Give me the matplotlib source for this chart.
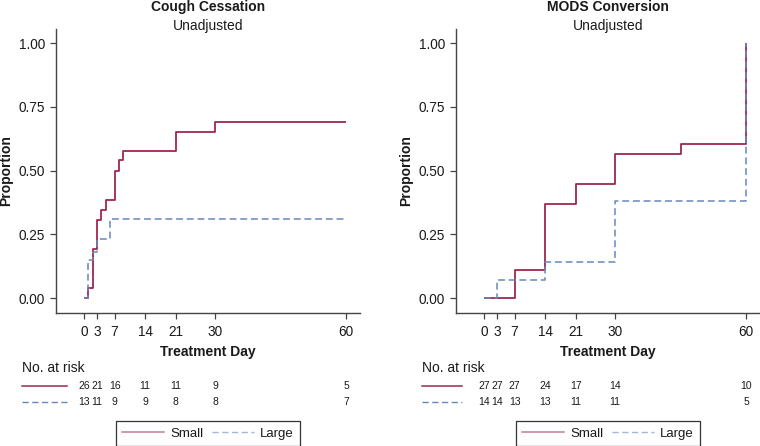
import matplotlib
matplotlib.use("Agg")
import matplotlib.pyplot as plt
from matplotlib.lines import Line2D
from matplotlib.transforms import blended_transform_factory

plt.rcParams['font.family'] = ['Liberation Sans', 'DejaVu Sans']

# ---------------- data ----------------
tick_days = [0, 3, 7, 14, 21, 30, 60]
y_ticks = [0.0, 0.25, 0.5, 0.75, 1.0]

cough_small_days = [0, 1, 2, 3, 4, 5, 7, 8, 9, 21, 30, 60]
cough_small_prop = [0, 0.038, 0.194, 0.306, 0.346, 0.385, 0.50, 0.540, 0.576, 0.653, 0.692, 0.692]
cough_large_days = [0, 1, 2, 3, 6, 60]
cough_large_prop = [0, 0.150, 0.180, 0.232, 0.308, 0.308]

mods_small_days = [0, 7, 14, 21, 30, 45, 60]
mods_small_prop = [0, 0.111, 0.369, 0.446, 0.563, 0.603, 1.0]
mods_large_days = [0, 3, 14, 30, 60]
mods_large_prop = [0, 0.072, 0.141, 0.379, 1.0]

cough_risk_small = [26, 21, 16, 11, 11, 9, 5]
cough_risk_large = [13, 11, 9, 9, 8, 8, 7]
mods_risk_small = [27, 27, 27, 24, 17, 14, 10]
mods_risk_large = [14, 14, 13, 13, 11, 11, 5]

titles = ["Cough Cessation", "MODS Conversion"]
subtitle = "Unadjusted"
group_labels = ["Small", "Large"]

RED = '#9E2752'
BLUE = '#6688BE'
TXT = '#1a1a1a'
AX = '#444444'

W, H = 760, 446
fig = plt.figure(figsize=(W / 100, H / 100), dpi=100)

def fx(px):
    return px / W

def fy(py):
    return 1 - py / H

panels = [
    dict(left=56, title=titles[0], s_d=cough_small_days, s_p=cough_small_prop,
         l_d=cough_large_days, l_p=cough_large_prop,
         r_s=cough_risk_small, r_l=cough_risk_large, tbl_x0=22.3, tbl_x1=66.7),
    dict(left=456, title=titles[1], s_d=mods_small_days, s_p=mods_small_prop,
         l_d=mods_large_days, l_p=mods_large_prop,
         r_s=mods_risk_small, r_l=mods_risk_large, tbl_x0=422.3, tbl_x1=461.7),
]

ax_top, ax_bot, ax_w = 29, 312.7, 304

for p in panels:
    ax = fig.add_axes([fx(p['left']), fy(ax_bot), fx(ax_w), (ax_bot - ax_top) / H])
    ax.set_xlim(-6.4, 63.2)
    ax.set_ylim(-0.0576, 1.055)
    for s in ['top', 'right']:
        ax.spines[s].set_visible(False)
    for s in ['left', 'bottom']:
        ax.spines[s].set_color(AX)
        ax.spines[s].set_linewidth(1.0)
    ax.step(p['s_d'], p['s_p'], where='post', color=RED, lw=1.3, solid_capstyle='butt')
    ax.step(p['l_d'], p['l_p'], where='post', color=BLUE, lw=1.1, dashes=(4.5, 2.5))
    ax.set_xticks(tick_days)
    ax.set_xticklabels([str(d) for d in tick_days])
    ax.set_yticks(y_ticks)
    ax.set_yticklabels([f"{v:.2f}" for v in y_ticks])
    ax.tick_params(axis='both', labelsize=9.8, colors=AX, labelcolor=TXT, length=4, width=0.9)
    ax.tick_params(axis='x', pad=5)
    ax.tick_params(axis='y', pad=4)
    ax.set_xlabel("Treatment Day", fontsize=10, fontweight='bold', color=TXT, labelpad=4)
    ax.set_ylabel("Proportion", fontsize=10, fontweight='bold', color=TXT, labelpad=4)

    cx = p['left'] + ax_w / 2
    fig.text(fx(cx), fy(7), p['title'], ha='center', va='center', fontsize=10,
             fontweight='bold', color=TXT)
    fig.text(fx(cx), fy(26), subtitle, ha='center', va='center', fontsize=10, color=TXT)

    # risk table
    fig.text(fx(p['tbl_x0']), fy(368), "No. at risk", ha='left', va='center', fontsize=10, color=TXT)
    fig.add_artist(Line2D([fx(p['tbl_x0']), fx(p['tbl_x1'])], [fy(386), fy(386)],
                          color=RED, lw=1.1, transform=fig.transFigure))
    fig.add_artist(Line2D([fx(p['tbl_x0']), fx(p['tbl_x1'])], [fy(402), fy(402)],
                          color=BLUE, lw=1.0, dashes=(4.5, 2.5), transform=fig.transFigure))
    tr = blended_transform_factory(ax.transData, fig.transFigure)
    for d, a, b in zip(tick_days, p['r_s'], p['r_l']):
        ax.text(d, fy(386), str(a), transform=tr, ha='center', va='center',
                fontsize=7.5, color=TXT, clip_on=False)
        ax.text(d, fy(402), str(b), transform=tr, ha='center', va='center',
                fontsize=7.5, color=TXT, clip_on=False)

    handles = [Line2D([], [], color=RED, lw=1.1, alpha=0.6),
               Line2D([], [], color=BLUE, lw=1.0, dashes=(4.5, 2.5), alpha=0.6)]
    leg = fig.legend(handles, group_labels, loc='center', bbox_to_anchor=(fx(cx), fy(433.5)),
                     ncol=2, fontsize=9.5, frameon=True, fancybox=False, framealpha=1,
                     edgecolor='#333333', borderpad=0.45, handlelength=3.15,
                     handletextpad=0.48, columnspacing=0.66)
    leg.get_frame().set_linewidth(0.9)
    for t in leg.get_texts():
        t.set_color(TXT)

fig.savefig("out.png", dpi=100)
